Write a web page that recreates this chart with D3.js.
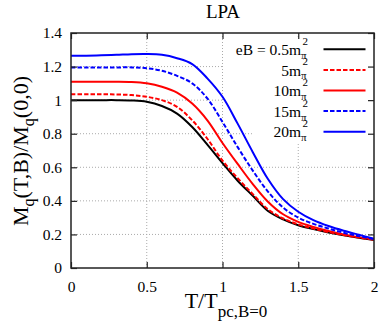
<!DOCTYPE html>
<html>
<head>
<meta charset="utf-8">
<script src="https://cdn.jsdelivr.net/npm/d3@7"></script>
<style>
  body { margin: 0; background: #fff; }
  text { font-family: "Liberation Serif", "DejaVu Serif", serif; fill: #000; }
</style>
</head>
<body>
<div id="chart"></div>
<script>
// T / T_pc,B=0
const temps = [0, 0.1, 0.2, 0.3, 0.4, 0.5, 0.6, 0.7, 0.8, 0.9, 1.0,
               1.1, 1.2, 1.3, 1.4, 1.5, 1.6, 1.7, 1.8, 1.9, 2.0];

// M_q(T,B)/M_q(0,0) for each field strength
const mEB05 = [1.000, 1.000, 1.000, 1.000, 0.998, 0.990, 0.965, 0.920, 0.840, 0.735, 0.625,
               0.520, 0.430, 0.340, 0.290, 0.255, 0.232, 0.212, 0.195, 0.180, 0.167];
const mEB5  = [1.035, 1.035, 1.035, 1.034, 1.030, 1.020, 1.000, 0.960, 0.880, 0.770, 0.640,
               0.535, 0.440, 0.350, 0.295, 0.260, 0.235, 0.214, 0.196, 0.181, 0.168];
const mEB10 = [1.110, 1.110, 1.110, 1.110, 1.108, 1.100, 1.080, 1.045, 0.980, 0.880, 0.745,
               0.620, 0.500, 0.395, 0.320, 0.275, 0.245, 0.220, 0.200, 0.184, 0.170];
const mEB15 = [1.195, 1.195, 1.195, 1.195, 1.195, 1.190, 1.175, 1.145, 1.100, 1.010, 0.870,
               0.720, 0.580, 0.455, 0.360, 0.300, 0.263, 0.235, 0.210, 0.190, 0.172];
const mEB20 = [1.265, 1.265, 1.267, 1.270, 1.274, 1.275, 1.270, 1.250, 1.215, 1.130, 1.020,
               0.860, 0.690, 0.530, 0.410, 0.335, 0.285, 0.250, 0.222, 0.198, 0.175];

const labels = ["eB = 0.5m", "5m", "10m", "15m", "20m"];
const xTicks = [0, 0.5, 1, 1.5, 2];
const yTicks = [0, 0.2, 0.4, 0.6, 0.8, 1, 1.2, 1.4];

const series = [
    {label: labels[0], values: mEB05, color: "#000000", dash: null},
    {label: labels[1], values: mEB5,  color: "#ff0000", dash: "4.5,2"},
    {label: labels[2], values: mEB10, color: "#ff0000", dash: null},
    {label: labels[3], values: mEB15, color: "#0000ff", dash: "4.5,2"},
    {label: labels[4], values: mEB20, color: "#0000ff", dash: null}
];

const W = 382, H = 322;
const margin = {top: 33, right: 8, bottom: 54, left: 71};
const width = W - margin.left - margin.right,
      height = H - margin.top - margin.bottom;

const svg = d3.select("#chart").append("svg")
    .attr("width", W)
    .attr("height", H);

const g = svg.append("g")
    .attr("transform", "translate(" + margin.left + "," + margin.top + ")");

const x = d3.scaleLinear().domain([0, 2]).range([0, width]);
const y = d3.scaleLinear().domain([0, 1.4]).range([height, 0]);

// grid
g.selectAll(".gx").data(xTicks.slice(1, -1)).enter().append("line")
    .attr("x1", d => x(d)).attr("x2", d => x(d))
    .attr("y1", 0).attr("y2", height)
    .attr("stroke", "#aaa").attr("stroke-width", 1).attr("stroke-dasharray", "1,2");
g.selectAll(".gy").data(yTicks.slice(1, -1)).enter().append("line")
    .attr("x1", 0).attr("x2", width)
    .attr("y1", d => y(d)).attr("y2", d => y(d))
    .attr("stroke", "#aaa").attr("stroke-width", 1).attr("stroke-dasharray", "1,2");

// opaque key background
g.append("rect")
    .attr("x", 153).attr("y", 4).attr("width", width - 153).attr("height", 83)
    .attr("fill", "#fff");
g.append("rect")
    .attr("x", 183).attr("y", 80).attr("width", width - 183).attr("height", 30)
    .attr("fill", "#fff");

// curves
const line = d3.line()
    .x((d, i) => x(temps[i]))
    .y(d => y(d))
    .curve(d3.curveCatmullRom);

series.forEach(s => {
    g.append("path")
        .datum(s.values)
        .attr("fill", "none")
        .attr("stroke", s.color)
        .attr("stroke-width", 2)
        .attr("stroke-dasharray", s.dash)
        .attr("d", line);
});

// axes: ticks inside on all four sides
const tickLen = 6;
g.append("g")
    .attr("transform", "translate(0," + height + ")")
    .call(d3.axisBottom(x).tickValues(xTicks).tickSizeInner(-tickLen).tickSizeOuter(0)
        .tickPadding(13).tickFormat(d3.format("")));
g.append("g")
    .call(d3.axisTop(x).tickValues(xTicks).tickSizeInner(-tickLen).tickSizeOuter(0).tickFormat(""));
g.append("g")
    .call(d3.axisLeft(y).tickValues(yTicks).tickSizeInner(-tickLen).tickSizeOuter(0)
        .tickPadding(9).tickFormat(d3.format("")));
g.append("g")
    .attr("transform", "translate(" + width + ",0)")
    .call(d3.axisRight(y).tickValues(yTicks).tickSizeInner(-tickLen).tickSizeOuter(0).tickFormat(""));

g.selectAll(".domain").remove();
g.selectAll(".tick line").attr("stroke", "#222").attr("stroke-width", 1.2);
g.selectAll(".tick text")
    .style("font-family", "'Liberation Serif', serif")
    .style("font-size", "15.5px")
    .attr("fill", "#000");

// frame
g.append("rect")
    .attr("width", width).attr("height", height)
    .attr("fill", "none").attr("stroke", "#222").attr("stroke-width", 1.5);

// key
const key = g.append("g");
series.forEach((s, i) => {
    const ky = 16.3 + i * 20.6;
    key.append("line")
        .attr("x1", 252.5).attr("x2", 294.5)
        .attr("y1", ky).attr("y2", ky)
        .attr("stroke", s.color).attr("stroke-width", 2)
        .attr("stroke-dasharray", s.dash);
    key.append("text")
        .attr("x", 230).attr("y", ky + 5.7)
        .attr("text-anchor", "end")
        .style("font-size", "15.5px")
        .text(s.label);
    key.append("text")
        .attr("x", 230).attr("y", ky + 9.5)
        .style("font-size", "11px")
        .text("π");
    key.append("text")
        .attr("x", 231.5).attr("y", ky - 4.5)
        .style("font-size", "11px")
        .text("2");
});

// title
svg.append("text")
    .attr("x", 223).attr("y", 18)
    .attr("text-anchor", "middle")
    .style("font-size", "19px")
    .text("LPA");

// x label
const xl = svg.append("text")
    .attr("x", 226).attr("y", 307.5)
    .attr("text-anchor", "middle")
    .style("font-size", "22px");
xl.append("tspan").text("T/T");
xl.append("tspan").attr("dy", 9).style("font-size", "17px").text("pc,B=0");

// y label
const yl = svg.append("text")
    .attr("transform", "translate(28,151) rotate(-90)")
    .attr("text-anchor", "middle")
    .style("font-size", "22px");
yl.append("tspan").text("M");
yl.append("tspan").attr("dy", 6).style("font-size", "16px").text("q");
yl.append("tspan").attr("dy", -6).text("(T,B)/M");
yl.append("tspan").attr("dy", 6).style("font-size", "16px").text("q");
yl.append("tspan").attr("dy", -6).text("(0,0)");
</script>
</body>
</html>
